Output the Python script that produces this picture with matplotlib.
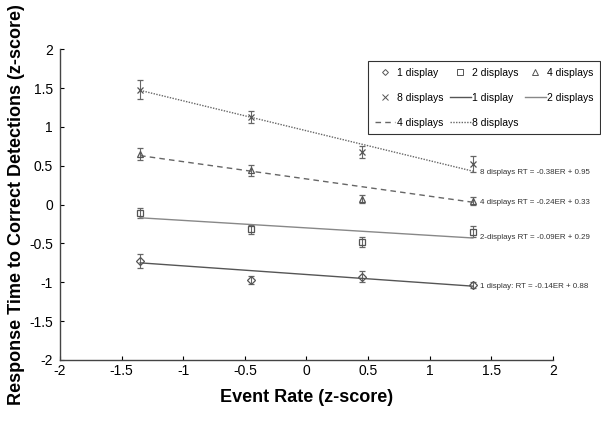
import matplotlib.pyplot as plt
from matplotlib.lines import Line2D
import numpy as np

# event rate (z-score) positions
er = [-1.35, -0.45, 0.45, 1.35]

# mean response time (z-score) per display condition
rt_1 = [-0.73, -0.97, -0.93, -1.04]
rt_2 = [-0.11, -0.32, -0.48, -0.35]
rt_4 = [0.65, 0.44, 0.07, 0.05]
rt_8 = [1.48, 1.13, 0.68, 0.52]

# error bar half-widths
err_1 = [0.09, 0.05, 0.07, 0.04]
err_2 = [0.06, 0.06, 0.06, 0.07]
err_4 = [0.08, 0.07, 0.05, 0.05]
err_8 = [0.12, 0.08, 0.08, 0.10]

# fitted line endpoints
fit_x = [-1.35, 1.35]
fit_1 = [-0.75, -1.05]
fit_2 = [-0.17, -0.43]
fit_4 = [0.63, 0.03]
fit_8 = [1.47, 0.43]

eq_labels = ['1 display: RT = -0.14ER + 0.88',
             '2-displays RT = -0.09ER + 0.29',
             '4 displays RT = -0.24ER + 0.33',
             '8 displays RT = -0.38ER + 0.95']
eq_y = [-1.05, -0.43, 0.03, 0.41]

plt.rcParams['font.family'] = ['Liberation Sans', 'DejaVu Sans']

fig = plt.figure(figsize=(6.01, 4.24), dpi=100)
ax = fig.add_axes([0.0998, 0.151, 0.8203, 0.733])

gray = '#555555'
eb = dict(color=gray, linestyle='none', markerfacecolor='none',
          markeredgewidth=0.9, capsize=2.5, elinewidth=0.8, ecolor='#666666')

ax.errorbar(er, rt_1, yerr=err_1, marker='D', markersize=4, **eb)
ax.errorbar(er, rt_2, yerr=err_2, marker='s', markersize=5, **eb)
ax.errorbar(er, rt_4, yerr=err_4, marker='^', markersize=5, **eb)
ax.errorbar(er, rt_8, yerr=err_8, marker='x', markersize=5, **eb)

l1, = ax.plot(fit_x, fit_1, color='#555555', lw=1.0, ls='-')
l2, = ax.plot(fit_x, fit_2, color='#888888', lw=1.0, ls='-')
l4, = ax.plot(fit_x, fit_4, color='#666666', lw=1.0, ls=(0, (4, 3)))
l8, = ax.plot(fit_x, fit_8, color='#666666', lw=1.0, ls=(0, (1, 1)))

for lab, y in zip(eq_labels, eq_y):
    ax.text(1.41, y, lab, fontsize=5.7, va='center', ha='left', color='#333333')

ax.set_xlim(-2, 2)
ax.set_ylim(-2, 2)
ticks = np.arange(-2, 2.01, 0.5)
tlabs = ['-2', '-1.5', '-1', '-0.5', '0', '0.5', '1', '1.5', '2']
ax.set_xticks(ticks)
ax.set_yticks(ticks)
ax.set_xticklabels(tlabs)
ax.set_yticklabels(tlabs)
ax.tick_params(direction='in', length=3, labelsize=10, width=0.8)
ax.tick_params(axis='x', pad=3)
ax.tick_params(axis='y', pad=5)
for s in ['top', 'right']:
    ax.spines[s].set_visible(False)
for s in ['left', 'bottom']:
    ax.spines[s].set_color('#444444')
    ax.spines[s].set_linewidth(1.0)

ax.set_xlabel('Event Rate (z-score)', fontsize=13, fontweight='bold', labelpad=8)
ax.set_ylabel('Response Time to Correct Detections (z-score)', fontsize=13,
              fontweight='bold', labelpad=3)

# legend proxies: plain markers without error bars
m1 = Line2D([], [], color=gray, ls='none', marker='D', markersize=3, markerfacecolor='none', markeredgewidth=0.7)
m2 = Line2D([], [], color=gray, ls='none', marker='s', markersize=4, markerfacecolor='none', markeredgewidth=0.7)
m4 = Line2D([], [], color=gray, ls='none', marker='^', markersize=4, markerfacecolor='none', markeredgewidth=0.7)
m8 = Line2D([], [], color=gray, ls='none', marker='x', markersize=4, markeredgewidth=0.7)

handles = [m1, m2, m4, m8, l1, l2, l4, l8]
labels = ['1 display', '2 displays', '4 displays', '8 displays',
          '1 display', '2 displays', '4 displays', '8 displays']
# row-major ordering for a 3-column legend
order = [0, 3, 6, 1, 4, 7, 2, 5]
leg = fig.legend([handles[i] for i in order], [labels[i] for i in order],
                 ncol=3, loc='upper left', bbox_to_anchor=(0.613, 0.855),
                 fontsize=7.5, frameon=True, fancybox=False, edgecolor='black',
                 handlelength=2.0, handletextpad=0.15, columnspacing=0.6,
                 labelspacing=1.45, borderpad=0.6, borderaxespad=0)
leg.get_frame().set_linewidth(0.8)

fig.savefig('out.png', dpi=100)
